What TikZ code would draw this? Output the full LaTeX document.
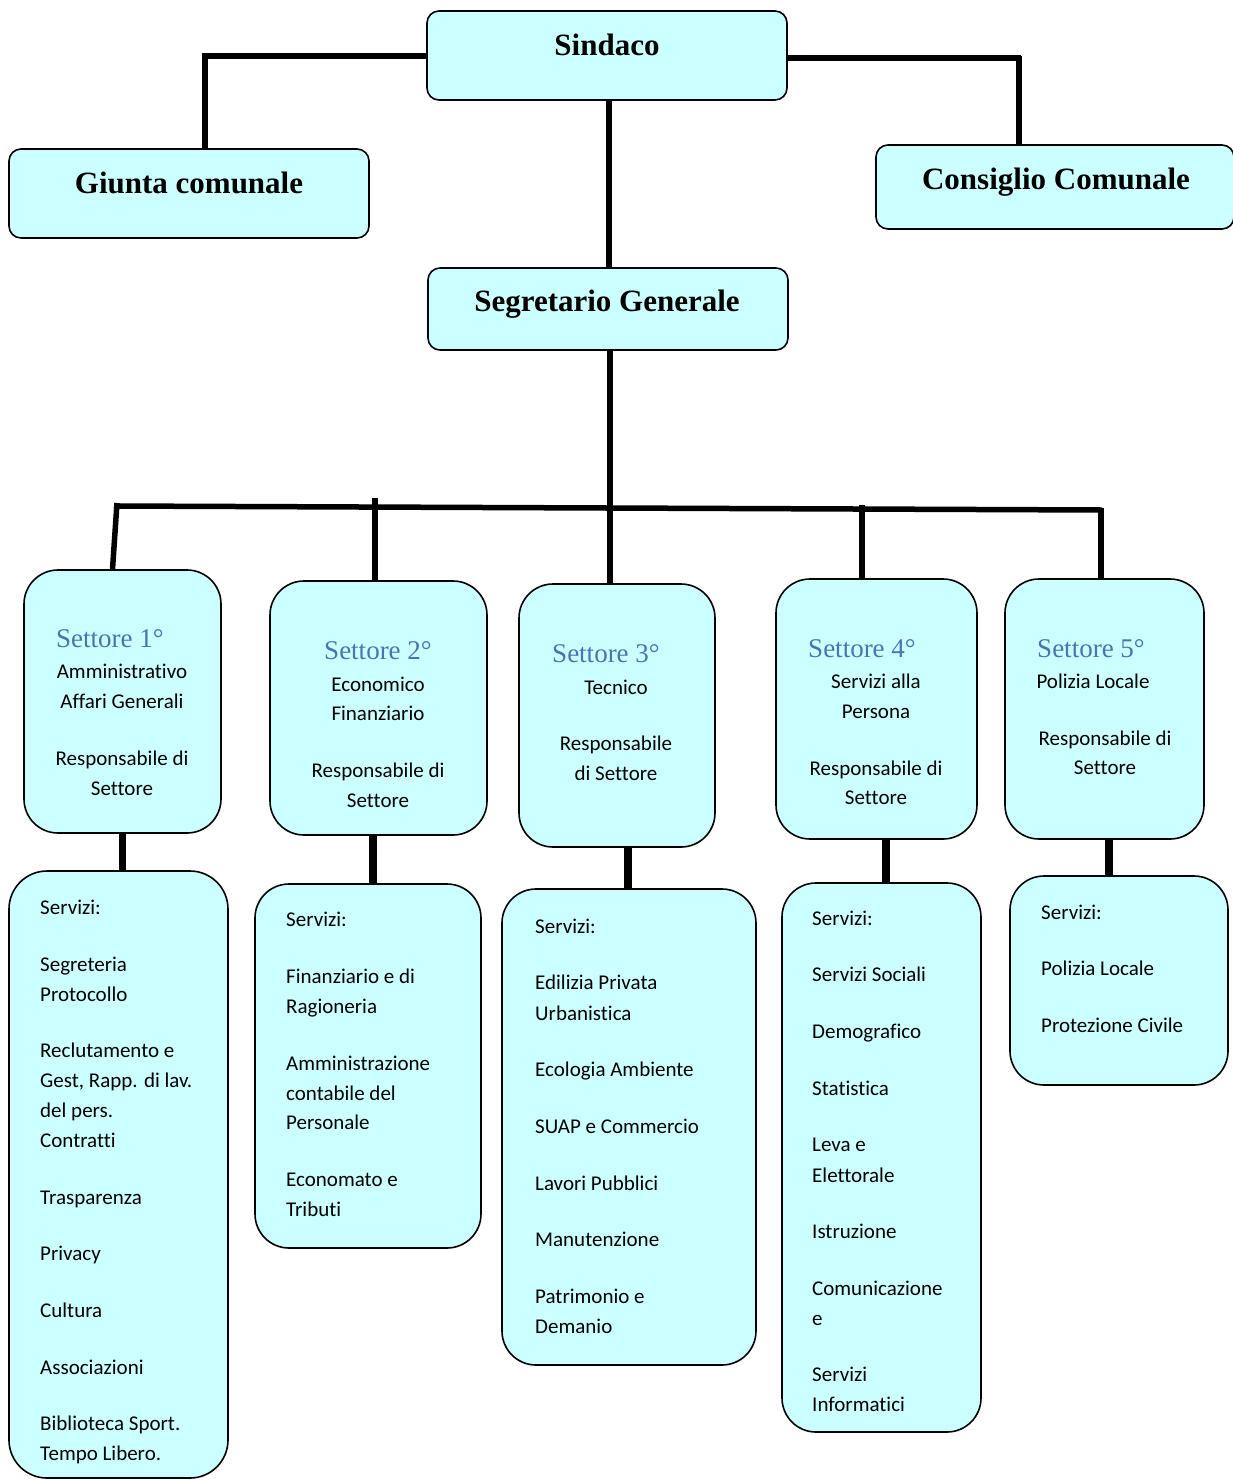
\documentclass[tikz,border=0pt]{standalone}
\usepackage{fontspec}
\setmainfont{Carlito}[Ligatures=NoCommon]
\newfontfamily\titlefam{Liberation Serif}
\definecolor{cyanfill}{RGB}{204,255,255}
\definecolor{headblue}{RGB}{72,117,176}
\tikzset{
  box/.style={draw=black, line width=1.6pt, fill=cyanfill, rounded corners=12pt, inner sep=0pt},
  sbox/.style={box, rounded corners=34pt},
  conn/.style={line width=5.5pt, line join=miter},
  conn2/.style={line width=7.5pt},
  toptxt/.style={font=\titlefam\bfseries\fontsize{31}{36}\selectfont, anchor=base, inner sep=0pt},
  headtxt/.style={font=\titlefam\fontsize{27}{30}\selectfont, text=headblue, anchor=base, inner sep=0pt},
  bodytxt/.style={font=\fontsize{21}{25}\selectfont, anchor=base, inner sep=0pt},
  itemtxt/.style={font=\fontsize{21}{25}\selectfont, anchor=base west, inner sep=0pt},
}
\begin{document}
\begin{tikzpicture}[x=1pt,y=-1pt]
\fill[white] (0,0) rectangle (1232,1481);
\useasboundingbox (0,0) rectangle (1232,1481);

% top boxes
\node[box, minimum width=360pt, minimum height=89pt] (sind) at (607,55.5) {};
\node[box, minimum width=360pt, minimum height=89pt] (giunta) at (189,193.5) {};
\node[box, minimum width=358pt, minimum height=84pt] (cons) at (1055,187) {};
\node[box, minimum width=360pt, minimum height=82pt] (segr) at (608,309) {};
\node[toptxt] (tsind) at (607,55) {Sindaco};
\node[toptxt] (tgiunta) at (189,193) {Giunta comunale};
\node[toptxt] (tcons) at (1056,189) {Consiglio Comunale};
\node[toptxt] (tsegr) at (607,311) {Segretario Generale};

% settore boxes
\node[sbox, minimum width=197pt, minimum height=263pt] (s1) at (122.5,701.5) {};
\node[sbox, minimum width=217pt, minimum height=254pt] (s2) at (378.5,708) {};
\node[sbox, minimum width=196pt, minimum height=263pt] (s3) at (617,715.5) {};
\node[sbox, minimum width=201pt, minimum height=260pt] (s4) at (876.5,709) {};
\node[sbox, minimum width=199pt, minimum height=260pt] (s5) at (1104.5,709) {};

% services boxes
\node[sbox, rounded corners=38pt, minimum width=219pt, minimum height=607pt] (sv1) at (118.5,1174.5) {};
\node[sbox, minimum width=226pt, minimum height=364pt] (sv2) at (368,1066) {};
\node[sbox, minimum width=254pt, minimum height=476pt] (sv3) at (629,1127) {};
\node[sbox, minimum width=199pt, minimum height=549pt] (sv4) at (881.5,1157.5) {};
\node[sbox, minimum width=218pt, minimum height=209pt] (sv5) at (1119,980.5) {};

% connectors top
\coordinate (gcorner) at (205,56);
\coordinate (ccorner) at (1019,58);
\draw[conn] ([yshift=-0.5pt]sind.west) -- ([xshift=-3pt]gcorner) ;
\draw[conn] (gcorner) -- (gcorner |- giunta.north);
\draw[conn] ([yshift=-2.5pt]sind.east) -- ([xshift=2pt]ccorner);
\draw[conn] ([yshift=2pt]ccorner) -- ([xshift=-36pt]cons.north);
\draw[conn] ([xshift=2pt]sind.south) -- ([xshift=1pt]segr.north);

% bus
\coordinate (busL) at (114,506);
\coordinate (busR) at (1102,510);
\coordinate (b1) at (117,503);
\coordinate (b2) at (375,498);
\coordinate (b4) at (862,505);
\coordinate (b5) at (1101,508);
\draw[conn] ([xshift=2pt]segr.south) -- ([xshift=2pt]segr.south |- s3.north);
\draw[conn] (busL) -- (busR);
\draw[conn] (b1) -- ([xshift=-10pt]s1.north);
\draw[conn] (b2) -- (b2 |- s2.north);
\draw[conn] (b4) -- (b4 |- s4.north);
\draw[conn] (b5) -- (b5 |- s5.north);

% settore to services
\draw[conn2] (s1.south) -- (s1.south |- sv1.north);
\draw[conn2] ([xshift=-5.5pt]s2.south) -- ([xshift=-5.5pt]s2.south |- sv2.north);
\draw[conn2] ([xshift=11pt]s3.south) -- ([xshift=11pt]s3.south |- sv3.north);
\draw[conn2] ([xshift=9.5pt]s4.south) -- ([xshift=9.5pt]s4.south |- sv4.north);
\draw[conn2] ([xshift=4.5pt]s5.south) -- ([xshift=4.5pt]s5.south |- sv5.north);

% settore texts
\node[headtxt] (h1) at (110,647) {Settore 1°};
\node[headtxt] (h2) at (378,659) {Settore 2°};
\node[headtxt] (h3) at (606,662) {Settore 3°};
\node[headtxt] (h4) at (862,657) {Settore 4°};
\node[headtxt] (h5) at (1091,657) {Settore 5°};

\foreach \xx/\yy/\txt [count=\i] in {
  122/678/Amministrativo, 122/708/Affari Generali, 122/765/Responsabile di, 122/795/Settore,
  378/691/Economico, 378/720/Finanziario, 378/777/Responsabile di, 378/807/Settore,
  616/694/Tecnico, 616/750/Responsabile, 616/780/di Settore,
  876/688/Servizi alla, 876/718/Persona, 876/775/Responsabile di, 876/804/Settore,
  1093/688/Polizia Locale, 1105/745/Responsabile di, 1105/774/Settore}
  \node[bodytxt] (st\i) at (\xx,\yy) {\txt};

% services items
\foreach \yy/\txt [count=\i] in {
  914/Servizi:, 971/Segreteria, 1001/Protocollo, 1057/Reclutamento e, 1087/{Gest, Rapp. di lav.},
  1117/del pers., 1147/Contratti, 1204/Trasparenza, 1260/Privacy, 1317/Cultura,
  1374/Associazioni, 1430/Biblioteca Sport., 1460/Tempo Libero.}
  \node[itemtxt] (ia\i) at (40,\yy) {\txt};

\foreach \yy/\txt [count=\i] in {
  926/Servizi:, 983/Finanziario e di, 1013/Ragioneria, 1070/Amministrazione,
  1100/contabile del, 1129/Personale, 1186/Economato e, 1216/Tributi}
  \node[itemtxt] (ib\i) at (286,\yy) {\txt};

\foreach \yy/\txt [count=\i] in {
  933/Servizi:, 989/Edilizia Privata, 1020/Urbanistica, 1076/Ecologia Ambiente,
  1133/SUAP e Commercio, 1190/Lavori Pubblici, 1246/Manutenzione, 1303/Patrimonio e, 1333/Demanio}
  \node[itemtxt] (ic\i) at (535,\yy) {\txt};

\foreach \yy/\txt [count=\i] in {
  925/Servizi:, 981/Servizi Sociali, 1038/Demografico, 1095/Statistica, 1151/Leva e,
  1182/Elettorale, 1238/Istruzione, 1295/Comunicazione, 1325/e, 1381/Servizi, 1411/Informatici}
  \node[itemtxt] (id\i) at (812,\yy) {\txt};

\foreach \yy/\txt [count=\i] in {
  919/Servizi:, 975/Polizia Locale, 1032/Protezione Civile}
  \node[itemtxt] (ie\i) at (1041,\yy) {\txt};
\end{tikzpicture}
\end{document}
